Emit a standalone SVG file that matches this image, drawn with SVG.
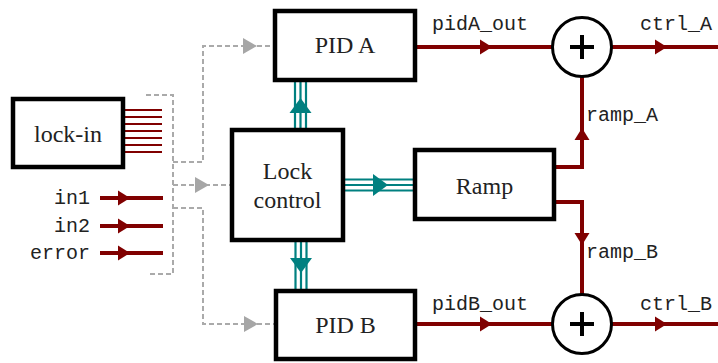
<svg xmlns="http://www.w3.org/2000/svg" width="718" height="363" viewBox="0 0 718 363">
<style>
.box{fill:#fff;stroke:#000;stroke-width:4.5}
.lbl{font-family:"Liberation Serif","DejaVu Serif",serif;font-size:24px;fill:#222;text-anchor:middle}
.mono{font-family:"Liberation Mono","DejaVu Sans Mono",monospace;font-size:20px;fill:#222}
.red{stroke:#800000;stroke-width:4;fill:none}
.stub{stroke:#800000;stroke-width:2;fill:none}
.teal{stroke:#008080;stroke-width:2.2;fill:none}
.dash{stroke:#aaa;stroke-width:2;fill:none;stroke-dasharray:5,3}
.ahr{fill:#800000}
.aht{fill:#008080}
.ahg{fill:#a6a6a6}
.sum{fill:#fff;stroke:#000;stroke-width:3}
.plus{stroke:#000;stroke-width:4;fill:none}
</style>
<defs>
<path id="arr" d="M0,0 L-12,-7.5 L-12,7.5 Z"/>
<path id="arrT" d="M0,0 L-15,-11 L-15,11 Z"/>
<path id="arrG" d="M0,0 L-14,-8 L-14,8 Z"/>
</defs>
<g id="connectors">
<!-- dashed bracket and branches -->
<path class="dash" d="M146,95 H173 V274 H150"/>
<path class="dash" d="M173,162 H203 V46 H273"/>
<path class="dash" d="M173,185 H232"/>
<path class="dash" d="M173,208 H203 V324 H274"/>
<use href="#arrG" class="ahg" transform="translate(257,46)"/>
<use href="#arrG" class="ahg" transform="translate(209,185)"/>
<use href="#arrG" class="ahg" transform="translate(258,324)"/>
<!-- lock-in stubs -->
<path class="stub" d="M125,110 H162 M125,117 H162 M125,124 H162 M125,131 H162 M125,138 H162 M125,145 H162 M125,152 H162"/>
<!-- inputs -->
<path class="red" d="M100,198 H163 M100,226 H163 M100,253 H163"/>
<use href="#arr" class="ahr" transform="translate(130,198)"/>
<use href="#arr" class="ahr" transform="translate(130,226)"/>
<use href="#arr" class="ahr" transform="translate(130,253)"/>
<!-- teal buses -->
<path class="teal" d="M295,82 V128 M300.5,82 V128 M306,82 V128"/>
<use href="#arrT" class="aht" transform="translate(300.5,98) rotate(-90)"/>
<path class="teal" d="M295.5,242 V289 M301,242 V289 M306.5,242 V289"/>
<use href="#arrT" class="aht" transform="translate(301,273) rotate(90)"/>
<path class="teal" d="M345,179.5 H413 M345,185 H413 M345,190.5 H413"/>
<use href="#arrT" class="aht" transform="translate(388,185)"/>
<!-- outputs -->
<path class="red" d="M417,47 H552"/>
<use href="#arr" class="ahr" transform="translate(492,47)"/>
<path class="red" d="M612,47 H718"/>
<use href="#arr" class="ahr" transform="translate(667,47)"/>
<path class="red" d="M417,324 H552"/>
<use href="#arr" class="ahr" transform="translate(492,324)"/>
<path class="red" d="M612,324 H718"/>
<use href="#arr" class="ahr" transform="translate(667,324)"/>
<path class="red" d="M556,167 H582 V77"/>
<use href="#arr" class="ahr" transform="translate(582,128) rotate(-90)"/>
<path class="red" d="M556,202 H582 V294"/>
<use href="#arr" class="ahr" transform="translate(582,245) rotate(90)"/>
<text class="mono" x="432" y="30">pidA_out</text>
<text class="mono" x="640" y="30">ctrl_A</text>
<text class="mono" x="432" y="310">pidB_out</text>
<text class="mono" x="640" y="310">ctrl_B</text>
<text class="mono" x="586" y="121">ramp_A</text>
<text class="mono" x="586" y="258">ramp_B</text>
<text class="mono" x="90" y="204" text-anchor="end">in1</text>
<text class="mono" x="90" y="232" text-anchor="end">in2</text>
<text class="mono" x="90" y="259" text-anchor="end">error</text>
</g>
<g id="lockin">
<rect class="box" x="13" y="99" width="110" height="68"/>
<text class="lbl" x="68" y="142">lock-in</text>
</g>
<g id="pidA">
<rect class="box" x="275" y="11" width="140" height="69"/>
<text class="lbl" x="345" y="53">PID A</text>
</g>
<g id="lockcontrol">
<rect class="box" x="232" y="130" width="111" height="110"/>
<text class="lbl" x="287.5" y="179">Lock</text>
<text class="lbl" x="287.5" y="208">control</text>
</g>
<g id="ramp">
<rect class="box" x="415" y="150" width="139" height="69"/>
<text class="lbl" x="484.5" y="194">Ramp</text>
</g>
<g id="pidB">
<rect class="box" x="276" y="291" width="139" height="68"/>
<text class="lbl" x="345.5" y="333">PID B</text>
</g>
<g id="sumA">
<circle class="sum" cx="582" cy="47" r="29.5"/>
<path class="plus" d="M570,47 H594 M582,35 V59"/>
</g>
<g id="sumB">
<circle class="sum" cx="582" cy="324" r="29.5"/>
<path class="plus" d="M570,324 H594 M582,312 V336"/>
</g>
</svg>
